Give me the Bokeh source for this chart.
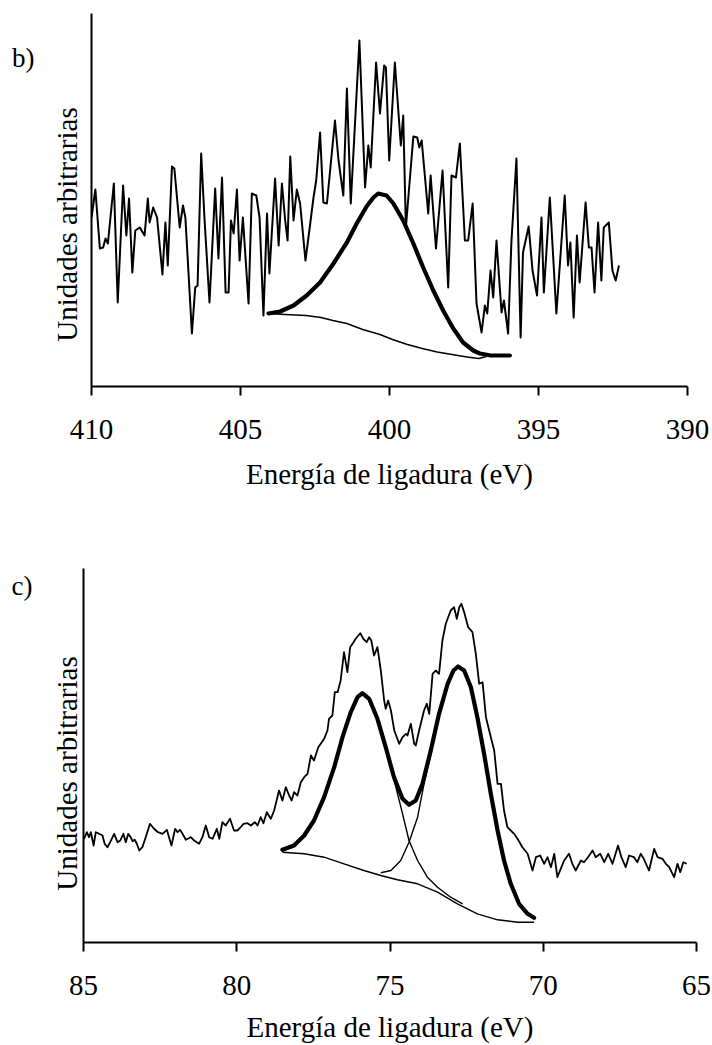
from bokeh.plotting import figure
from bokeh.models import Range1d, FixedTicker, LinearAxis
from bokeh.embed import file_html
from bokeh.resources import INLINE

FONT = "Liberation Serif"

# ---------------- panel b) ----------------
b_ticks = [410, 405, 400, 395, 390]
b_energy = [410.00, 409.87, 409.72, 409.61, 409.53, 409.45, 409.25, 409.12, 408.94, 408.83,
            408.74, 408.63, 408.53, 408.38, 408.22, 408.11, 408.05, 407.93, 407.80, 407.62,
            407.52, 407.44, 407.30, 407.22, 407.04, 406.93, 406.85, 406.63, 406.52, 406.44,
            406.32, 406.21, 406.04, 405.85, 405.74, 405.62, 405.50, 405.40, 405.32, 405.23,
            405.12, 405.03, 404.92, 404.73, 404.62, 404.47, 404.36, 404.23, 404.11, 404.03,
            403.84, 403.72, 403.61, 403.50, 403.42, 403.33, 403.22, 403.11, 403.00, 402.82,
            402.69, 402.55, 402.46, 402.33, 402.22, 402.10, 401.83, 401.71, 401.55, 401.43,
            401.30, 401.01, 400.82, 400.71, 400.63, 400.45, 400.32, 400.18, 400.12, 400.01,
            399.82, 399.62, 399.54, 399.45, 399.20, 399.07, 399.00, 398.92, 398.70, 398.62,
            398.44, 398.22, 398.03, 397.92, 397.77, 397.64, 397.47, 397.36, 397.21, 397.08,
            396.91, 396.80, 396.72, 396.61, 396.52, 396.41, 396.24, 396.16, 396.02, 395.91,
            395.74, 395.60, 395.52, 395.33, 395.20, 395.05, 394.90, 394.82, 394.62, 394.40,
            394.12, 394.01, 393.93, 393.82, 393.71, 393.62, 393.42, 393.31, 393.22, 393.12,
            393.00, 392.89, 392.81, 392.64, 392.52, 392.41, 392.30]
b_counts = [169, 197, 138, 139, 148, 143, 203, 84, 201, 151,
            188, 114, 156, 159, 151, 188, 164, 179, 169, 112,
            164, 121, 220, 218, 159, 181, 169, 53, 99, 101,
            233, 169, 84, 198, 128, 209, 94, 94, 166, 153,
            197, 126, 169, 83, 193, 191, 169, 71, 173, 113,
            208, 141, 203, 166, 146, 230, 166, 197, 183, 126,
            156, 189, 206, 254, 184, 183, 266, 226, 191, 298,
            183, 346, 199, 241, 219, 324, 273, 321, 319, 226,
            324, 241, 271, 159, 250, 249, 239, 246, 173, 211,
            138, 216, 99, 211, 209, 243, 146, 146, 183, 83,
            54, 81, 73, 116, 89, 146, 74, 86, 53, 144,
            228, 49, 134, 160, 116, 91, 169, 94, 189, 73,
            191, 121, 144, 69, 151, 104, 184, 139, 139, 94,
            164, 106, 159, 164, 116, 106, 121]
b_fit_energy = [404.06, 403.67, 403.22, 402.78, 402.33, 401.88, 401.43, 401.10, 400.77, 400.54,
                400.38, 400.10, 399.87, 399.54, 399.20, 398.87, 398.53, 398.20, 397.86, 397.53,
                397.19, 396.97, 396.60, 395.96]
b_fit_counts = [73, 75, 81, 91, 104, 123, 144, 163, 180, 189,
                193, 191, 183, 166, 143, 119, 96, 76, 58, 44,
                36, 33, 31, 31]
b_bg_energy = [404.06, 403.50, 402.80, 402.30, 401.90, 401.43, 400.90, 400.32, 399.90, 399.40,
               398.90, 398.40, 397.90, 397.40, 397.00, 396.75]
b_bg_counts = [73, 72, 71, 69, 66, 63, 57, 52, 47, 42,
               38, 34.5, 32, 29.5, 28, 30]

# ---------------- panel c) ----------------
c_ticks = [85, 80, 75, 70, 65]
c_energy = [84.98, 84.89, 84.82, 84.76, 84.67, 84.60, 84.49, 84.38, 84.31, 84.22,
            84.13, 84.00, 83.89, 83.80, 83.70, 83.62, 83.54, 83.46, 83.40, 83.33,
            83.26, 83.18, 83.08, 82.97, 82.83, 82.70, 82.57, 82.42, 82.28, 82.21,
            82.13, 82.01, 81.93, 81.85, 81.77, 81.66, 81.50, 81.39, 81.23, 81.12,
            81.01, 80.90, 80.79, 80.65, 80.57, 80.47, 80.36, 80.22, 80.09, 79.98,
            79.87, 79.78, 79.65, 79.54, 79.41, 79.32, 79.22, 79.13, 79.02, 78.89,
            78.78, 78.62, 78.51, 78.40, 78.29, 78.21, 78.13, 78.02, 77.91, 77.80,
            77.69, 77.58, 77.48, 77.34, 77.26, 77.15, 77.04, 76.99, 76.88, 76.80,
            76.71, 76.61, 76.50, 76.39, 76.30, 76.19, 76.12, 75.97, 75.87, 75.76,
            75.68, 75.61, 75.52, 75.41, 75.30,
            75.19, 75.14, 75.06, 74.97, 74.86, 74.70, 74.59, 74.48, 74.43, 74.32,
            74.21, 74.16, 74.05, 73.89, 73.80, 73.72, 73.61, 73.51, 73.40, 73.29,
            73.18, 73.02, 72.91, 72.82, 72.74, 72.67, 72.58, 72.45, 72.31, 72.20,
            72.09, 71.98, 71.87, 71.71, 71.60, 71.49, 71.38, 71.28, 71.17, 70.95,
            70.84, 70.68, 70.51, 70.35, 70.24, 70.10, 69.97, 69.86, 69.75, 69.64,
            69.54, 69.43, 69.32, 69.16, 69.05, 68.94, 68.77, 68.67, 68.54, 68.39,
            68.29, 68.14, 68.01, 67.88, 67.74, 67.56, 67.45, 67.31, 67.20, 67.04,
            66.93, 66.82, 66.72, 66.55, 66.38, 66.27, 66.11, 66.00, 65.89, 65.73,
            65.62, 65.53, 65.43, 65.32]
c_counts = [103.7, 110.3, 105.3, 110.3, 97, 110.3, 108.7, 107, 98.7, 95.3,
            100.3, 108.7, 100.3, 102, 108.7, 100.3, 108.7, 105.3, 101.3, 102.7,
            98.7, 92, 95.3, 105.3, 118.7, 113.7, 110.3, 108.7, 112.7, 105.3,
            97, 113.7, 110.3, 112.7, 108.7, 102.7, 105.3, 102, 98.7, 105.3,
            117, 105.3, 103.7, 113.7, 103.7, 120.3, 117, 123.7, 112, 112,
            115.3, 118.7, 119.3, 117, 120.3, 117, 125.3, 119.3, 130.3, 123.7,
            132, 152, 142, 155.3, 147, 142, 150.3, 147, 160.3, 165.3,
            168.7, 187, 182, 195.3, 198.7, 203.7, 212, 223.7, 227, 250.3,
            250.3, 262, 290.3, 270.3, 295.3, 300.3, 303.7, 309.3, 303.7, 300.3,
            305.3, 302, 287, 295.3, 272,
            242, 233.7, 242, 232, 212, 198.7, 205.3, 208.7, 207, 218.7,
            198.7, 197, 212, 232, 238.7, 228.7, 268.7, 272, 268.7, 302,
            318.7, 332, 335.3, 323.7, 335.3, 338.7, 330.3, 315.3, 310.3, 288.7,
            258.7, 260.3, 225.3, 205.3, 192, 158.7, 158.7, 132, 115.3, 108.7,
            103.7, 95.3, 88.7, 72, 85.3, 87, 78.7, 85.3, 75.3, 88.7,
            65.3, 73.7, 82, 88.7, 78.7, 72, 82, 80.3, 85.3, 92,
            85.3, 88.7, 80.3, 88.7, 78.7, 97, 85.3, 75.3, 87, 85.3,
            80.3, 88.7, 83.7, 72, 93.7, 85.3, 83.7, 78.7, 75.3, 65.3,
            78.7, 70.3, 80.3, 78.7]
c_fit_energy = [78.51, 78.13, 77.80, 77.48, 77.15, 76.82, 76.55, 76.28, 76.06, 75.90,
                75.68, 75.41, 75.14, 74.87, 74.59, 74.38, 74.16, 73.94, 73.67, 73.40,
                73.12, 72.93, 72.78, 72.58, 72.36, 72.15, 71.93, 71.71, 71.49, 71.28,
                71.06, 70.79, 70.51, 70.30]
c_fit_counts = [92.7, 97, 107, 122, 145.3, 175.3, 205.3, 230.3, 245.3, 249.3,
                243.7, 223.7, 195.3, 165.3, 143.7, 137.7, 142, 158.7, 192, 228.7,
                258.7, 272, 276, 272, 255.3, 225.3, 188.7, 148.7, 112, 82,
                58.7, 38.7, 28.7, 24.7]
c_comp1_energy = [78.51, 78.13, 77.80, 77.48, 77.15, 76.82, 76.55, 76.28, 76.06, 75.90,
                  75.68, 75.41, 75.14, 74.87, 74.59, 74.38, 74.10, 73.78, 73.45, 73.02,
                  72.63]
c_comp1_counts = [92.7, 97, 107, 122, 145.3, 175.3, 205.3, 230.3, 245.3, 249.3,
                  243.7, 223.7, 195.3, 163, 128.7, 102, 82, 65.3, 55.3, 45.3,
                  38.7]
c_comp2_energy = [75.30, 74.97, 74.65, 74.38, 74.10, 73.89, 73.67, 73.40, 73.12, 72.93,
                  72.78, 72.58, 72.36, 72.15, 71.93, 71.71, 71.49, 71.28, 71.06, 70.79,
                  70.51, 70.30]
c_comp2_counts = [69.7, 72, 82, 100.3, 125.3, 158.7, 188, 226, 257, 271,
                  275.5, 271.5, 255, 225, 188.5, 148.5, 112, 82, 58.7, 38.7,
                  28.7, 24.7]
c_bg_energy = [78.51, 77.80, 77.15, 76.50, 75.85, 75.30, 74.76, 74.10, 73.45, 72.80,
               72.15, 71.49, 70.84, 70.30]
c_bg_counts = [90.3, 88.7, 85.3, 78.7, 72, 67, 62.7, 58.7, 50.3, 38.7,
               28.7, 22.7, 20.3, 20.3]

XLABEL = "Energía de ligadura (eV)"
YLABEL = "Unidades arbitrarias"


def make_panel(x_lo, x_hi, y_top, ticks, width, height, bl, br, bt, bb,
               label_standoff, ylab_pos, ylab_standoff, tag, tag_pos, tag_standoff):
    p = figure(width=width, height=height,
               x_range=Range1d(x_lo, x_hi), y_range=Range1d(0, y_top),
               output_backend="svg", toolbar_location=None,
               min_border_left=bl, min_border_right=br,
               min_border_top=bt, min_border_bottom=bb)
    p.xgrid.visible = False
    p.ygrid.visible = False
    p.outline_line_color = None
    p.background_fill_color = "white"
    p.border_fill_color = "white"

    xa = p.xaxis[0]
    xa.ticker = FixedTicker(ticks=ticks)
    xa.axis_line_color = "black"
    xa.axis_line_width = 2
    xa.major_tick_line_color = "black"
    xa.major_tick_line_width = 2
    xa.major_tick_out = 9
    xa.major_tick_in = 0
    xa.minor_tick_out = 0
    xa.minor_tick_in = 0
    xa.major_label_text_font = FONT
    xa.major_label_text_font_size = "29px"
    xa.major_label_text_color = "black"
    xa.major_label_standoff = 24
    xa.axis_label = XLABEL
    xa.axis_label_text_font = FONT
    xa.axis_label_text_font_size = "29px"
    xa.axis_label_text_font_style = "normal"
    xa.axis_label_text_color = "black"
    xa.axis_label_standoff = label_standoff

    # main y axis: plain line; the vertical quantity label is placed as its only tick label
    ya = p.yaxis[0]
    ya.ticker = FixedTicker(ticks=[ylab_pos])
    ya.major_label_overrides = {ylab_pos: YLABEL}
    ya.major_label_orientation = "vertical"
    ya.major_label_text_font = FONT
    ya.major_label_text_font_size = "29px"
    ya.major_label_text_color = "black"
    ya.major_label_standoff = ylab_standoff
    ya.axis_line_color = "black"
    ya.axis_line_width = 2
    ya.major_tick_out = 0
    ya.major_tick_in = 0
    ya.minor_tick_out = 0
    ya.minor_tick_in = 0

    # outer left axis carrying only the panel tag
    tag_axis = LinearAxis(ticker=FixedTicker(ticks=[tag_pos]),
                          major_label_overrides={tag_pos: tag},
                          axis_line_color=None, major_tick_out=0, major_tick_in=0,
                          minor_tick_out=0, minor_tick_in=0,
                          major_label_text_font=FONT,
                          major_label_text_font_size="27px",
                          major_label_text_color="black",
                          major_label_standoff=tag_standoff)
    p.add_layout(tag_axis, "left")
    return p


# panel b
pb = make_panel(410, 390, 373, b_ticks, 709, 540, 91, 22, 13, 154, 16,
                162, 9, "b)", 329, 13)
pb.line(b_energy, b_counts, line_color="black", line_width=2.0, line_join="round")
pb.line(b_bg_energy, b_bg_counts, line_color="black", line_width=1.4, line_join="round")
pb.line(b_fit_energy, b_fit_counts, line_color="black", line_width=4.2,
        line_join="round", line_cap="round")

# panel c
pc = make_panel(85, 65, 374, c_ticks, 711, 505, 83, 15, 28, 103, 13,
                169, 1, "c)", 357, 15)
pc.line(c_energy, c_counts, line_color="black", line_width=1.8, line_join="round")
pc.line(c_bg_energy, c_bg_counts, line_color="black", line_width=1.4, line_join="round")
pc.line(c_comp1_energy, c_comp1_counts, line_color="black", line_width=1.4, line_join="round")
pc.line(c_comp2_energy, c_comp2_counts, line_color="black", line_width=1.4, line_join="round")
pc.line(c_fit_energy, c_fit_counts, line_color="black", line_width=4.2,
        line_join="round", line_cap="round")

open("out.html", "w").write(file_html([pb, pc], INLINE))
